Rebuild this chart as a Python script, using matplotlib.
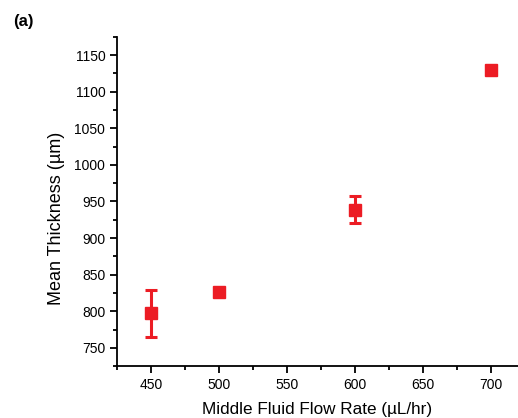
import matplotlib
matplotlib.use('Agg')
import matplotlib.pyplot as plt
from matplotlib.ticker import MultipleLocator

plt.rcParams['font.family'] = ['Liberation Sans', 'DejaVu Sans']

flow_rate = [450, 500, 600, 700]
thickness = [797, 826, 939, 1130]
thickness_err = [32, 5, 18, 5]

RED = '#ec1c24'

fig = plt.figure(figsize=(5.18, 4.18), dpi=100)
ax = fig.add_axes([0.226, 0.124, 0.774, 0.788])

ax.errorbar(flow_rate, thickness, yerr=thickness_err, fmt='s', color=RED,
            markersize=9, elinewidth=2.2, capsize=4, capthick=2.2, zorder=3)

ax.set_xlim(425, 720)
ax.set_ylim(725, 1175)
ax.xaxis.set_major_locator(MultipleLocator(50))
ax.xaxis.set_minor_locator(MultipleLocator(25))
ax.yaxis.set_major_locator(MultipleLocator(50))
ax.yaxis.set_minor_locator(MultipleLocator(25))

for side in ['top', 'right']:
    ax.spines[side].set_visible(False)
for side in ['left', 'bottom']:
    ax.spines[side].set_linewidth(1.3)

ax.tick_params(which='major', direction='out', length=5, width=1.3, labelsize=10)
ax.tick_params(which='minor', direction='out', length=3, width=1.3)

ax.set_xlabel('Middle Fluid Flow Rate (µL/hr)', fontsize=12.3, labelpad=7)
ax.set_ylabel('Mean Thickness (µm)', fontsize=13)
ax.yaxis.set_label_coords(-0.13, 0.45)

fig.text(0.025, 0.937, '(a)', fontsize=12, fontweight='bold')

fig.savefig('out.png', dpi=100)
